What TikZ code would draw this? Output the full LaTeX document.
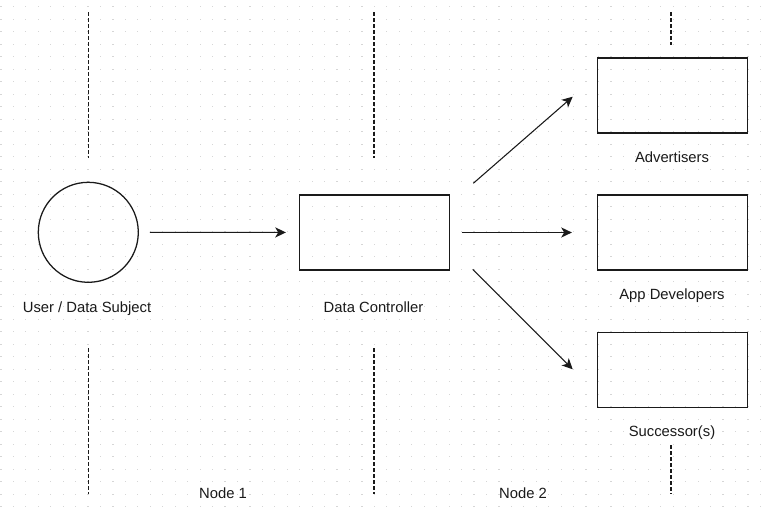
\documentclass[tikz,border=0pt]{standalone}
\usepackage{fontspec}
\setmainfont{Liberation Sans}
\usetikzlibrary{arrows.meta}
\definecolor{dotgray}{HTML}{D6D6D6}
\definecolor{ink}{HTML}{1A1A1A}
\tikzset{
  px/.style={x=0.75pt,y=-0.75pt},
  shapeline/.style={draw=ink,line width=0.95pt},
  entity/.style={shapeline,circle,inner sep=0pt,minimum size=75pt},
  party/.style={shapeline,rectangle,inner sep=0pt,minimum width=112.5pt,minimum height=56.25pt},
  caption/.style={anchor=base,inner sep=0pt,text=ink,font=\fontsize{11.1}{13}\selectfont},
  flow/.style={draw=ink,line width=0.8pt,-{Stealth[length=8pt,width=7.6pt,inset=2.2pt]}},
  lane/.style={draw=ink,line width=0.85pt,dash pattern=on 3pt off 1.5pt},
}
\begin{document}
\begin{tikzpicture}[px]
  \useasboundingbox (0,0) rectangle (762,518);
  \fill[white] (0,0) rectangle (762,518);
  % dotted background grid
  \foreach \i in {0,...,61}{
    \foreach \j in {0,...,41}{
      \fill[dotgray] ({0.9+12.45*\i-0.6},{6.7+12.5*\j-0.6}) rectangle ++(1.2,1.2);
    }
  }

  % lane separators
  \coordinate (l1a) at (88.3,12);  \coordinate (l1b) at (88.3,158);
  \coordinate (l1c) at (88.3,348); \coordinate (l1d) at (88.3,494);
  \coordinate (l2a) at (374,12);   \coordinate (l2b) at (374,158);
  \coordinate (l2c) at (374,348);  \coordinate (l2d) at (374,494);
  \coordinate (l3a) at (671,12);   \coordinate (l3b) at (671,45);
  \coordinate (l3c) at (671,445);  \coordinate (l3d) at (671,494);
  \draw[lane] (l1a) -- (l1b);
  \draw[lane] (l1c) -- (l1d);
  \draw[lane] (l2a) -- (l2b);
  \draw[lane] (l2c) -- (l2d);
  \draw[lane] (l3a) -- (l3b);
  \draw[lane] (l3c) -- (l3d);

  % participants
  \node[entity] (user) at (88.3,232.3) {};
  \node[party] (dc) at (374.2,232.5) {};
  \node[party] (adv) at (672.5,95.5) {};
  \node[party] (dev) at (672.5,232.5) {};
  \node[party] (succ) at (672.5,369.7) {};

  % captions
  \node[caption] (userlbl) at (87,312) {User / Data Subject};
  \node[caption] (dclbl) at (373.5,312) {Data Controller};
  \node[caption] (advlbl) at (672,162.5) {Advertisers};
  \node[caption] (devlbl) at (672,299.3) {App Developers};
  \node[caption] (succlbl) at (672,436.5) {Successor(s)};
  \node[caption] (node1) at (223,498.5) {Node 1};
  \node[caption] (node2) at (523,498.5) {Node 2};

  % data flows
  \draw[flow,shorten <=8.25pt,shorten >=9.5pt] (user) -- (dc);
  \draw[flow,shorten <=8.8pt,shorten >=18.75pt] (dc) -- (dev);
  \coordinate (upS) at (473.3,183.3);
  \coordinate (upE) at (572.7,96.7);
  \coordinate (dnS) at (472.7,269.3);
  \coordinate (dnE) at (572.7,369.3);
  \draw[flow] (upS) -- (upE);
  \draw[flow] (dnS) -- (dnE);
\end{tikzpicture}
\end{document}
